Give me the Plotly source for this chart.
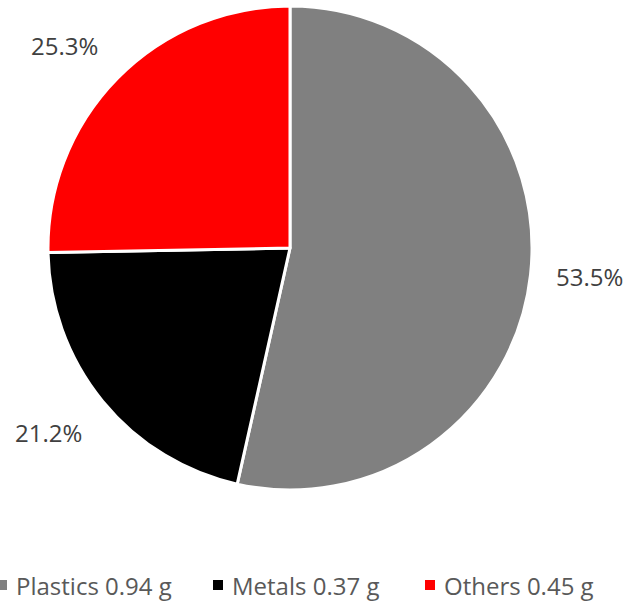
import math
import plotly.graph_objects as go

categories = ["Plastics", "Metals", "Others"]
grams = [0.94, 0.37, 0.45]
percents = [53.5, 21.2, 25.3]
colors = ["#808080", "#000000", "#FF0000"]

W, H = 625, 601
cx, cy, R = 290, 248, 242  # pie centre / radius in pixels

legend_labels = [f"{c} {g:.2f} g" for c, g in zip(categories, grams)]

fig = go.Figure(go.Pie(
    labels=legend_labels,
    values=percents,
    sort=False,
    direction="clockwise",
    rotation=0,
    marker=dict(colors=colors, line=dict(color="white", width=3)),
    textinfo="none",
    hoverinfo="label+percent",
    domain=dict(x=[(cx - R) / W, (cx + R) / W], y=[(H - cy - R) / H, (H - cy + R) / H]),
))

annotations = []
total = sum(percents)
cum = 0
for p in percents:
    mid = (cum + p / 2) / total * 2 * math.pi
    cum += p
    dx, dy = math.sin(mid), math.cos(mid)  # dy positive = up
    rl = R * 1.085
    px = cx + dx * (rl + 3)
    py = cy - dy * rl
    xa = "left" if dx > 0 else "right"
    if abs(dy) < 0.3:
        ya = "middle"
    else:
        ya = "bottom" if dy > 0 else "top"
    annotations.append(dict(
        x=px / W, y=1 - py / H, xref="paper", yref="paper",
        text=f"{p:.1f}%", showarrow=False, xanchor=xa, yanchor=ya,
        font=dict(family="Open Sans", size=24, color="#404040"),
    ))

# manual legend (square marker + label)
leg_marker_x = [2, 218, 430]
leg_y = 585
shapes = []
for lx, col, lab in zip(leg_marker_x, colors, legend_labels):
    shapes.append(dict(
        type="rect", xref="paper", yref="paper",
        x0=(lx - 5) / W, x1=(lx + 5) / W,
        y0=1 - (leg_y + 5) / H, y1=1 - (leg_y - 5) / H,
        fillcolor=col, line=dict(width=0),
    ))
    annotations.append(dict(
        x=(lx + 12) / W, y=1 - leg_y / H, xref="paper", yref="paper",
        text=lab, showarrow=False, xanchor="left", yanchor="middle",
        font=dict(family="Open Sans", size=24, color="#595959"),
    ))

fig.update_layout(
    width=W, height=H,
    margin=dict(l=0, r=0, t=0, b=0),
    paper_bgcolor="white", plot_bgcolor="white",
    showlegend=False,
    annotations=annotations,
    shapes=shapes,
)

fig.write_html("out.html")
